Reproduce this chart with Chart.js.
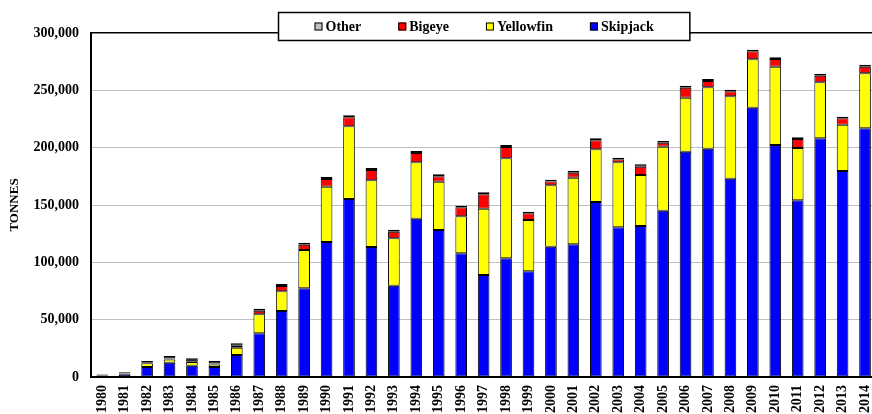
<!DOCTYPE html>
<html>
<head>
<meta charset="utf-8">
<title>Catch by species</title>
<script src="https://cdn.jsdelivr.net/npm/chart.js@4.4.1/dist/chart.umd.min.js"></script>
<style>
	html, body { margin: 0; padding: 0; overflow: hidden; background: #fff; }
	canvas { display: block; }
</style>
</head>
<body>
<canvas id="catchChart" width="890" height="414"></canvas>
<script>
(function() {
	'use strict';

	var years = ["1980", "1981", "1982", "1983", "1984", "1985", "1986", "1987", "1988", "1989",
		"1990", "1991", "1992", "1993", "1994", "1995", "1996", "1997", "1998", "1999",
		"2000", "2001", "2002", "2003", "2004", "2005", "2006", "2007", "2008", "2009",
		"2010", "2011", "2012", "2013", "2014"];

	// tonnes per year, stacked bottom to top
	var skipjack = [800, 2500, 8700, 12500, 9900, 8700, 19200, 38100, 57600, 77300,
		117700, 155200, 113400, 79600, 138100, 128200, 107900, 89000, 103500, 92200,
		113600, 115700, 152600, 130500, 131700, 145000, 196500, 199100, 172900, 234900,
		202300, 154100, 208200, 179700, 216900];
	var yellowfin = [400, 500, 3200, 2800, 3200, 2300, 6400, 16600, 17100, 33500,
		48300, 63400, 58100, 41400, 49100, 42100, 32200, 57800, 87200, 44700,
		53600, 58100, 46000, 56700, 44500, 55800, 47100, 53500, 71900, 42200,
		68300, 45600, 48800, 40300, 48000];
	var bigeye = [200, 200, 500, 800, 600, 800, 1700, 3100, 4700, 4600,
		6700, 7900, 9000, 5700, 8100, 4700, 7900, 12500, 9900, 5800,
		3400, 4400, 7800, 2700, 7200, 3500, 8700, 5500, 4400, 6900,
		6700, 7900, 5800, 5600, 5700];
	var other = [800, 900, 1600, 2200, 2600, 2200, 2100, 1800, 1700, 1700,
		1700, 1700, 1800, 1800, 1800, 1800, 1400, 1800, 1700, 1500,
		1500, 1700, 1800, 1400, 2100, 1500, 1700, 1800, 1300, 1400,
		1500, 1400, 1700, 1400, 1800];

	var yTicks = [0, 50000, 100000, 150000, 200000, 250000, 300000];

	var serif = "'Liberation Serif', 'Times New Roman', serif";

	function series(label, values, colour, key) {
		return {
			label: label,
			data: values,
			backgroundColor: colour,
			keyColour: key || colour,
			borderColor: "#000",
			borderWidth: 1,
			borderSkipped: false,
			categoryPercentage: 1,
			barPercentage: 0.52
		};
	}

	// boxed legend sitting on the top frame line, items in reverse stack order
	var boxedLegend = {
		id: "boxedLegend",
		afterDraw: function(chart) {
			var ctx = chart.ctx;
			var area = chart.chartArea;
			var sets = chart.data.datasets.slice().reverse();
			var marker = 8, gap = 3, spacing = 37, pad = 36;

			ctx.save();
			ctx.font = "bold 14px " + serif;
			var widths = sets.map(function(ds) { return ctx.measureText(ds.label).width; });
			var total = 0;
			widths.forEach(function(w, i) {
				total += marker + gap + w + (i < widths.length - 1 ? spacing : 0);
			});
			var boxW = total + pad * 2;
			var boxX = Math.round((area.left + area.right) / 2 - boxW / 2) + 0.5;
			var boxY = 12.5, boxH = 28;

			ctx.fillStyle = "#fff";
			ctx.fillRect(boxX, boxY, boxW, boxH);
			ctx.strokeStyle = "#000";
			ctx.lineWidth = 1.5;
			ctx.strokeRect(boxX, boxY, boxW, boxH);

			var x = boxX + pad;
			var midY = boxY + boxH / 2;
			ctx.textBaseline = "middle";
			ctx.textAlign = "left";
			sets.forEach(function(ds, i) {
				ctx.fillStyle = ds.keyColour;
				ctx.fillRect(x, midY - marker / 2, marker, marker);
				ctx.lineWidth = 1;
				ctx.strokeStyle = "#000";
				ctx.strokeRect(x + 0.5, midY - marker / 2 + 0.5, marker - 1, marker - 1);
				x += marker + gap;
				ctx.fillStyle = "#000";
				ctx.fillText(ds.label, x, midY + 1);
				x += widths[i] + spacing;
			});
			ctx.restore();
		}
	};

	new Chart(document.getElementById("catchChart").getContext("2d"), {
		type: "bar",
		data: {
			labels: years,
			datasets: [
				series("Skipjack", skipjack, "#0000ff"),
				series("Yellowfin", yellowfin, "#ffff00"),
				series("Bigeye", bigeye, "#ff0000"),
				// the cap is thinner than its outline, so it reads as black
				series("Other", other, "#000000", "#c0c0c0")
			]
		},
		options: {
			responsive: false,
			animation: false,
			devicePixelRatio: 1,
			layout: { padding: { top: 33, right: 11.5, bottom: 0, left: 0 } },
			plugins: {
				legend: { display: false },
				tooltip: { enabled: false }
			},
			scales: {
				x: {
					stacked: true,
					grid: { display: false, drawTicks: false },
					border: { color: "#000", width: 2 },
					ticks: {
						color: "#000",
						font: { family: serif, size: 14, weight: "bold" },
						maxRotation: 90,
						minRotation: 90,
						autoSkip: false,
						padding: 8
					},
					afterFit: function(scale) { scale.height = 37; }
				},
				y: {
					stacked: true,
					min: 0,
					max: 300000,
					afterBuildTicks: function(scale) {
						scale.ticks = yTicks.map(function(v) { return { value: v }; });
					},
					grid: {
						drawTicks: false,
						color: function(c) { return c.tick && c.tick.value === 300000 ? "#000" : "#c0c0c0"; },
						lineWidth: function(c) { return c.tick && c.tick.value === 300000 ? 1.5 : 1; }
					},
					border: { color: "#000", width: 2 },
					ticks: {
						color: "#000",
						font: { family: serif, size: 14, weight: "bold" },
						padding: 12,
						callback: function(v) { return Number(v).toLocaleString("en-US"); }
					},
					title: {
						display: true,
						text: "TONNES",
						color: "#000",
						font: { family: serif, size: 13, weight: "bold" },
						padding: { top: 7, bottom: 0 }
					},
					afterFit: function(scale) { scale.width = 91; }
				}
			}
		},
		plugins: [boxedLegend]
	});
})();
</script>
</body>
</html>
